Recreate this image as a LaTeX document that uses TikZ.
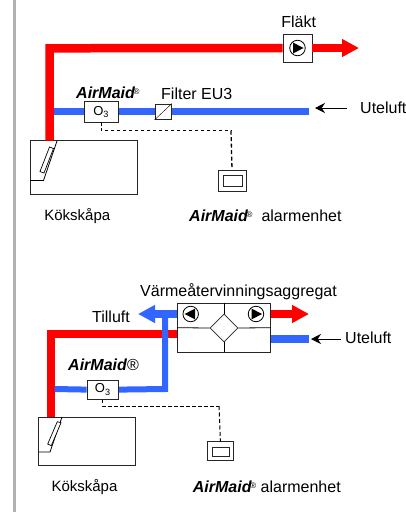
\documentclass[tikz,border=0pt]{standalone}
\usepackage{fontspec}
\setmainfont{Liberation Sans}
\usetikzlibrary{arrows.meta,shapes.geometric}
\definecolor{hotred}{HTML}{FF0000}
\definecolor{coldblue}{HTML}{3366FF}
\newcommand{\airmaid}{\textbf{\textit{AirMaid}}}
\newcommand{\smallreg}{\hspace{-1.5pt}\raisebox{4pt}{\fontsize{8}{8}\selectfont ®}}
\begin{document}
\begin{tikzpicture}[x=1pt,y=-1pt,>=stealth]
\tikzstyle{labeltext}=[font=\fontsize{16}{16}\selectfont, inner sep=0pt]
\tikzstyle{cabtext}=[font=\fontsize{15}{15}\selectfont, inner sep=0pt]
\tikzstyle{hot}=[draw=hotred, line width=8.5pt]
\tikzstyle{cold}=[draw=coldblue, line width=7pt]
\tikzstyle{box}=[rectangle, draw=black!85, line width=0.8pt, fill=white, inner sep=0pt]
\tikzstyle{ozone}=[box, font=\fontsize{13}{13}\selectfont]
\tikzstyle{fanring}=[circle, draw=black, line width=0.8pt, fill=white, minimum size=15.5pt, inner sep=0pt]
\tikzstyle{wire}=[line width=0.9pt, dash pattern=on 3.5pt off 2.5pt]
\tikzstyle{thickwire}=[line width=1.3pt, dash pattern=on 4pt off 2.5pt]
\tikzstyle{fat}=[-{Triangle[length=17pt,width=17pt]}]
\tikzset{arrowglyph/.pic={\fill[black] (-4.5,-5.5)--(6,0)--(-4.5,5.5)--cycle;}}
\useasboundingbox (0,0) rectangle (406,512);
\draw[draw=black!30, line width=2.4pt] (14.4,0) -- (14.4,512);

% Panel A
\begin{scope}
  \node[box, minimum width=107.5pt, minimum height=53.5pt] (cabA) at (83.8,167.2) {};
  \node[box, minimum width=29pt, minimum height=28pt] (fanA) at (297.5,48) {};
  \node[ozone, minimum width=34.5pt, minimum height=20.5pt] (ozoneA) at (101.2,111.7) {O\textsubscript{3}};
  \node[box, minimum width=16.5pt, minimum height=15.5pt] (filterA) at (163.2,111.7) {};
  \node[box, minimum width=28pt, minimum height=21pt] (alarmA) at (232,180.5) {};
  \node[box, minimum width=19pt, minimum height=11pt] (screenA) at (232.5,180.5) {};
  \coordinate (redbaseA) at (49.5,140.5);
  \coordinate (redtopA) at (49.5,48.3);
  \coordinate (blueleftA) at (54,111.7);
  \coordinate (bluerightA) at (309,111.7);
  \coordinate (redtipA) at (359,48);
  \coordinate (doorA) at (43.5,180.5);
  \coordinate (kinkA) at (101.2,130.7);
  \coordinate (cornerA) at (231,130.7);
  % pipes
  \draw[hot] (redbaseA) -- (redtopA) -- (fanA.west);
  \draw[hot, fat] (fanA.east) -- (redtipA);
  \draw[cold] (blueleftA) -- (ozoneA.west);
  \draw[cold] (ozoneA.east) -- (filterA.west);
  \draw[cold] (filterA.east) -- (bluerightA);
  \draw (filterA.south west) -- (filterA.north east);
  \node[fanring] (ringA) at (fanA.center) {};
  \pic at (ringA.center) {arrowglyph};
  % door
  \draw[line width=0.8pt] (57,141) -- (doorA) -- (30,180.5);
  \draw[line width=0.7pt, fill=white] (49.5,147) -- (53.5,148.5) -- (44,173) -- (40,171.5) -- cycle;
  \draw[wire] (ozoneA.south) -- (kinkA) -- (cornerA);
  \draw[thickwire] (cornerA) -- (alarmA.north);
  \coordinate (uteA) at (347,108);
  \coordinate (utetipA) at (315,108);
  \draw[-{Stealth[length=10pt,width=10pt]}, line width=0.9pt] (uteA) -- (utetipA);
  \node[labeltext, anchor=west] (uteluftA) at (360,107.5) {Uteluft};
  \node[labeltext] (flaktA) at (298.7,22) {Fläkt};
  \node[labeltext, anchor=west] (nameA) at (76,93) {\airmaid\smallreg};
  \node[labeltext, anchor=west] (filtertextA) at (161,94) {Filter EU3};
  \node[cabtext] (kokA) at (77.3,216) {Kökskåpa};
  \node[labeltext, anchor=west] (unitA) at (189,216) {\airmaid\smallreg\hspace{9pt}alarmenhet};
\end{scope}

% Panel B
\begin{scope}
  \node[box, minimum width=96.5pt, minimum height=48pt] (cabB) at (86.8,441) {};
  \node[box, minimum width=92.5pt, minimum height=49pt] (heatB) at (224,327.5) {};
  \node[ozone, minimum width=31.7pt, minimum height=19.3pt] (ozoneB) at (102.8,389.6) {O\textsubscript{3}};
  \node[box, minimum width=25.5pt, minimum height=19pt] (alarmB) at (220.4,451.2) {};
  \node[box, minimum width=17pt, minimum height=9pt] (screenB) at (220.5,451.5) {};
  \coordinate (redbaseB) at (51,417);
  \coordinate (redtopB) at (51,334);
  \coordinate (bluejoinB) at (165,389);
  \coordinate (bluetopB) at (165,314);
  \coordinate (bluetipB) at (138,314);
  \coordinate (redtipB) at (309,314);
  \coordinate (bluestubB) at (309,339);
  \coordinate (blueleftB) at (54.7,389);
  \coordinate (doorB) at (50,452);
  \coordinate (kinkB) at (102.8,406);
  \coordinate (cornerB) at (219,406);
  \coordinate (midlineB) at (224,327.7);
  % pipes
  \draw[hot, line width=8pt] (redbaseB) -- (redtopB) -- (heatB.west |- redtopB);
  \draw[cold, line width=6pt] (blueleftB) -- (ozoneB.west);
  \draw[cold, line width=6pt] (ozoneB.east) -- (bluejoinB) -- (bluetopB);
  \draw[cold, line width=7.5pt, fat] (heatB.west |- bluetopB) -- (bluetipB);
  \draw[hot, line width=8pt, fat] (heatB.east |- redtipB) -- (redtipB);
  \draw[cold, line width=7.5pt] (heatB.east |- bluestubB) -- (bluestubB);
  % inside of the unit
  \node[draw=black!85, line width=0.8pt, fill=white, diamond, minimum size=28pt, inner sep=0pt] (coreB) at (224,328) {};
  \draw[line width=0.8pt] (heatB.west |- midlineB) -- (coreB.west);
  \draw[line width=0.8pt] (coreB.east) -- (heatB.east |- midlineB);
  \draw[line width=0.8pt] (heatB.north) -- (coreB.north);
  \draw[line width=0.8pt] (coreB.south) -- (heatB.south);
  \node[fanring] (ringleftB) at (190.7,314) {};
  \node[fanring] (ringrightB) at (256,314) {};
  \pic[xscale=-1] at (ringleftB.center) {arrowglyph};
  \pic at (ringrightB.center) {arrowglyph};
  % door
  \draw[line width=0.8pt] (62,417) -- (doorB) -- (38.5,452);
  \draw[line width=0.7pt, fill=white] (57.3,421.7) -- (61,422.7) -- (51.3,445.7) -- (47.7,444) -- cycle;
  \draw[wire] (ozoneB.south) -- (kinkB) -- (cornerB);
  \draw[thickwire, line width=1pt] (cornerB) -- (alarmB.north);
  \coordinate (uteB) at (340.7,339);
  \coordinate (utetipB) at (311,339);
  \draw[-{Stealth[length=10pt,width=10pt]}, line width=0.9pt] (uteB) -- (utetipB);
  \node[labeltext, anchor=west] (uteluftB) at (345,338) {Uteluft};
  \node[labeltext] (heattextB) at (238.5,292) {Värmeåtervinningsaggregat};
  \node[labeltext] (tilluftB) at (111,317) {Tilluft};
  \node[labeltext, anchor=west] (nameB) at (68,365) {\airmaid®};
  \node[cabtext] (kokB) at (84.5,487) {Kökskåpa};
  \node[labeltext, anchor=west] (unitB) at (192.7,487) {\airmaid\smallreg\ alarmenhet};
\end{scope}
\end{tikzpicture}
\end{document}
